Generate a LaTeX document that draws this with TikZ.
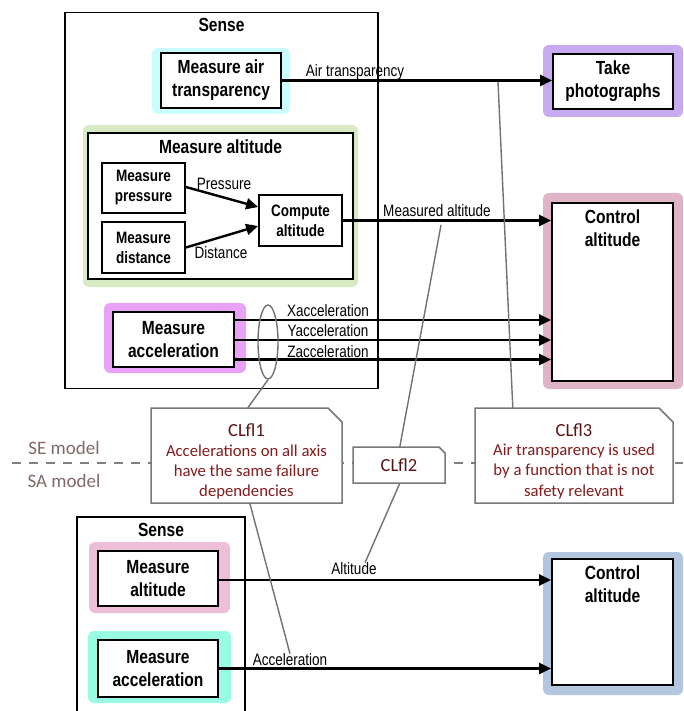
\documentclass[tikz,border=0pt]{standalone}
\usepackage{fontspec}
\usetikzlibrary{arrows.meta,calc,shapes.geometric}
\newfontfamily\af[FakeStretch=0.82]{Liberation Sans}
\newfontfamily\cf{Carlito}
\definecolor{gcyan}{RGB}{204,253,253}
\definecolor{gpurple}{RGB}{200,170,240}
\definecolor{ggreen}{RGB}{216,234,196}
\definecolor{gpink}{RGB}{222,180,198}
\definecolor{gviolet}{RGB}{232,162,248}
\definecolor{gpinkb}{RGB}{236,190,216}
\definecolor{gaqua}{RGB}{152,252,228}
\definecolor{gblue}{RGB}{178,198,222}
\definecolor{clline}{RGB}{120,110,110}
\definecolor{clborder}{RGB}{120,120,120}
\definecolor{cltext}{RGB}{130,28,28}
\definecolor{cltitletext}{RGB}{90,20,20}
\definecolor{modeltxt}{RGB}{130,104,104}
\definecolor{dashgray}{RGB}{128,128,128}
\begin{document}
\begin{tikzpicture}[x=1pt,y=-1pt,
  box/.style={draw, line width=1.8pt, fill=white, inner sep=0pt, align=center},
  boldbig/.style={font=\af\bfseries\fontsize{19}{23}\selectfont, align=center},
  boldsmall/.style={font=\af\bfseries\fontsize{16.5}{20}\selectfont, align=center},
  lab/.style={font=\af\fontsize{16.5}{19}\selectfont, inner sep=0pt},
  flow/.style={line width=2.4pt, -{Triangle[length=12pt,width=11pt]}},
  glow/.style={rounded corners=6pt},
  outerbox/.style={draw, line width=1.6pt, inner sep=0pt},
  clout/.style={draw=clborder, fill=white, line width=1.5pt, line join=miter},
  cltitle/.style={font=\cf\fontsize{18.5}{22}\selectfont, text=cltitletext, inner sep=0pt},
  clbody/.style={font=\cf\fontsize{16.7}{20.3}\selectfont, text=cltext, align=center, inner sep=0pt},
  link/.style={draw=clline, line width=1.4pt},
  modeltext/.style={font=\cf\fontsize{19}{22}\selectfont, text=modeltxt, inner sep=0pt},
  clgeom/.style={inner sep=0pt, minimum width=#1}
]
\useasboundingbox (0,0) rectangle (683,711);

% ---------- top: SE model ----------
\node[outerbox, minimum width=313pt, minimum height=376pt] (sense1) at (221.5,200.5) {};
\node[boldbig] (sense1t) at (221.5,25) {Sense};

\fill[gcyan, glow] (152,48) rectangle (290,114);
\node[box, boldbig, minimum width=120pt, minimum height=55pt] (mair) at (221,80.5) {Measure air\\transparency};

\fill[gpurple, glow] (543,45) rectangle (683,117);
\node[box, boldbig, minimum width=120pt, minimum height=55pt] (photo) at (613,81.5) {Take\\photographs};

\fill[ggreen, glow] (83,125) rectangle (358,287);
\node[box, minimum width=265pt, minimum height=146pt] (malt) at (220.5,206) {};
\node[boldbig] (maltt) at (220.5,147) {Measure altitude};
\node[box, boldsmall, minimum width=83pt, minimum height=50pt] (mpres) at (143.5,188) {Measure\\pressure};
\node[box, boldsmall, minimum width=83pt, minimum height=51pt] (mdist) at (143.5,247.5) {Measure\\distance};
\node[box, boldsmall, minimum width=83pt, minimum height=51pt] (calt) at (300.5,220.5) {Compute\\altitude};

\fill[gpink, glow] (543,193) rectangle (683,389);
\node[box, minimum width=121pt, minimum height=178pt] (ctl1) at (612.5,292) {};
\node[boldbig] (ctl1t) at (612.5,228.5) {Control\\altitude};

\fill[gviolet, glow] (104,303) rectangle (246,373);
\node[box, boldbig, minimum width=121pt, minimum height=55pt] (macc) at (173.5,339.5) {Measure\\acceleration};

% arrows top
\draw[flow] (mair.east) -- (mair.east -| photo.west);
\node[lab] (atlab) at (355,72) {Air transparency};
\draw[flow] ($(mpres.east)+(0,-1)$) -- ($(calt.west)+(0,-13.5)$);
\node[lab] (preslab) at (224,184) {Pressure};
\draw[flow] (mdist.east) -- ($(calt.west)+(0,5.5)$);
\node[lab] (distlab) at (221,253) {Distance};
\draw[flow] (calt.east) -- (calt.east -| ctl1.west);
\node[lab] (malab) at (437,211) {Measured altitude};
\draw[flow] (macc.east |- 0,320) -- (ctl1.west |- 0,320);
\draw[flow] (macc.east |- 0,340) -- (ctl1.west |- 0,340);
\draw[flow] (macc.east |- 0,359.5) -- (ctl1.west |- 0,359.5);
\node[lab] (xlab) at (328,311) {Xacceleration};
\node[lab] (ylab) at (328,331) {Yacceleration};
\node[lab] (zlab) at (328,351.5) {Zacceleration};

\node[draw=clline, line width=1.4pt, ellipse, minimum width=20pt, minimum height=74pt, inner sep=0pt] (ell) at (268,342) {};

% ---------- separator ----------
\draw[dashgray, line width=2.5pt, dash pattern=on 9pt off 8pt] (12,463) -- (683,463);
\node[modeltext] (se) at (64,448) {SE model};
\node[modeltext] (sa) at (64,481) {SA model};

% ---------- CLfl boxes ----------
\filldraw[clout] (151,408) -- (328,408) -- (342,422) -- (342,503) -- (151,503) -- cycle;
\filldraw[clout] (353,447) -- (439,447) -- (445,453) -- (445,483) -- (353,483) -- cycle;
\filldraw[clout] (475,408) -- (659,408) -- (673,422) -- (673,503) -- (475,503) -- cycle;

\node[inner sep=0pt, minimum width=191pt, minimum height=95pt] (c1) at (246.5,455.5) {};
\node[cltitle] (c1t) at (246.5,430) {CLfl1};
\node[clbody] (c1b) at (246.5,472) {Accelerations on all axis\\have the same failure\\dependencies};

\node[cltitle, minimum width=92pt, minimum height=36pt] (c2) at (399,465) {CLfl2};

\node[inner sep=0pt, minimum width=198pt, minimum height=95pt] (c3) at (574,455.5) {};
\node[cltitle] (c3t) at (574,430) {CLfl3};
\node[clbody] (c3b) at (574,471.5) {Air transparency is used\\by a function that is not\\safety relevant};

% ---------- bottom: SA model ----------
\draw[line width=1.6pt] (77,716) -- (77,517) -- (245,517) -- (245,716);
\node[boldbig] (sense2t) at (161,530) {Sense};

\fill[gpinkb, glow] (89,542) rectangle (230,613);
\node[box, boldbig, minimum width=120pt, minimum height=55pt] (malt2) at (158,578.5) {Measure\\altitude};

\fill[gaqua, glow] (88,631) rectangle (231,703);
\node[box, boldbig, minimum width=120pt, minimum height=57pt] (macc2) at (158,668.5) {Measure\\acceleration};

\fill[gblue, glow] (543,552) rectangle (683,695);
\node[box, minimum width=121pt, minimum height=126pt] (ctl2) at (612.5,622) {};
\node[boldbig] (ctl2t) at (612.5,584) {Control\\altitude};

\draw[flow] (malt2.east |- 0,580) -- (ctl2.west |- 0,580);
\node[lab] (altlab) at (354,569) {Altitude};
\draw[flow] (macc2.east) -- (macc2.east -| ctl2.west);
\node[lab] (acclab) at (290,660) {Acceleration};

% ---------- links ----------
\draw[link] (ell.south) -- ($(c1.north west)+(97,0)$);
\draw[link] ($(c1.south west)+(99,0)$) -- (acclab.north);
\coordinate (p2) at (441,225);
\draw[link] (p2) -- ($(c2.north west)+(47,0)$);
\draw[link] ($(c2.south west)+(47,0)$) -- ($(altlab.north)+(11,0)$);
\coordinate (p3) at (498,82);
\draw[link] (p3) -- ($(c3.north west)+(38,0)$);
\end{tikzpicture}
\end{document}
